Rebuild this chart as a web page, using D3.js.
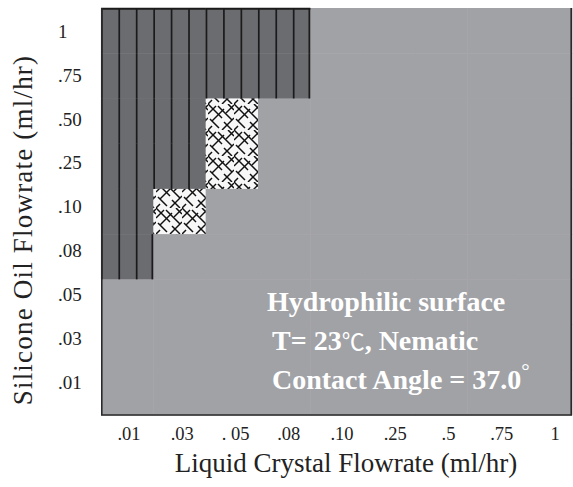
<!DOCTYPE html>
<html>
<head>
<meta charset="utf-8">
<script src="https://cdn.jsdelivr.net/npm/d3@7"></script>
<style>
  html, body { margin: 0; padding: 0; background: #fff; }
  svg { display: block; }
</style>
</head>
<body>
<svg id="chart" width="573" height="487"></svg>
<script>
// ---- data ----
const xLabels = [".01", ".03", ". 05", ".08", ".10", ".25", ".5", ".75", "1"];
const yLabels = ["1", ".75", ".50", ".25", ".10", ".08", ".05", ".03", ".01"];
// regime per cell, one row per silicone-oil flowrate (top to bottom), one entry per LC flowrate
// J = dark striped, H = cross-hatched, G = light grey
const row_1   = ["J","J","J","J","G","G","G","G","G"];
const row_075 = ["J","J","J","J","G","G","G","G","G"];
const row_050 = ["J","J","H","G","G","G","G","G","G"];
const row_025 = ["J","J","H","G","G","G","G","G","G"];
const row_010 = ["J","H","G","G","G","G","G","G","G"];
const row_008 = ["J","G","G","G","G","G","G","G","G"];
const row_005 = ["G","G","G","G","G","G","G","G","G"];
const row_003 = ["G","G","G","G","G","G","G","G","G"];
const row_001 = ["G","G","G","G","G","G","G","G","G"];
const regimeRows = [row_1, row_075, row_050, row_025, row_010, row_008, row_005, row_003, row_001];
const annotation = ["Hydrophilic surface", "T= 23", "℃", ", Nematic", "Contact Angle = 37.0", "°"];
const xTitle = "Liquid Crystal Flowrate (ml/hr)";
const yTitle = "Silicone Oil Flowrate (ml/hr)";

// ---- layout ----
const plot = {x0: 101, x1: 572, y0: 8, y1: 415};
const colors = {J: "#6b6c70", H: "#f7f7f7", G: "#a1a2a6"};

const svg = d3.select("#chart");
const defs = svg.append("defs");
const T = 26;
const pat = defs.append("pattern").attr("id", "hatch")
  .attr("patternUnits", "userSpaceOnUse").attr("width", T).attr("height", T);
pat.append("rect").attr("width", T).attr("height", T).attr("fill", colors.H);
const hatchPaths = [
  "M0,0 L14,14", "M10,2 L24,16", "M2,15 L11,24", "M16,18 L24,26", "M20,0 L26,6",
  "M4,17 L16,5", "M14,26 L26,14", "M0,10 L8,2", "M18,9 L26,1", "M0,26 L4,22"
];
pat.selectAll("path").data(hatchPaths).join("path")
  .attr("d", d => d).attr("stroke", "#111").attr("stroke-width", 1.5)
  .attr("fill", "none");

const x = d3.scaleBand().domain(xLabels).range([plot.x0, plot.x1]);
const y = d3.scaleBand().domain(yLabels).range([plot.y0, plot.y1]);
const xTick = d3.scalePoint().domain(xLabels).range([129, 555]);
const yTick = d3.scalePoint().domain(yLabels).range([31, 382]);

const cells = [];
regimeRows.forEach((row, i) => row.forEach((r, j) => cells.push({xl: xLabels[j], yl: yLabels[i], r, i, j})));

// background cells
svg.append("g").selectAll("rect").data(cells).join("rect")
  .attr("x", d => x(d.xl)).attr("y", d => y(d.yl))
  .attr("width", x.bandwidth() + 0.5).attr("height", y.bandwidth() + 0.5)
  .attr("fill", d => d.r === "H" ? "url(#hatch)" : colors[d.r]);

// stripes in dark cells
const stripes = [];
cells.filter(d => d.r === "J").forEach(d => {
  const w = x.bandwidth();
  [0, 1, 2].forEach(k => stripes.push({x: x(d.xl) + k * w / 3 + 0.8, y0: y(d.yl), y1: y(d.yl) + y.bandwidth()}));
  const next = regimeRows[d.i][d.j + 1];
  if (next === "G") stripes.push({x: x(d.xl) + w - 1, y0: y(d.yl), y1: y(d.yl) + y.bandwidth()});
});
svg.append("g").selectAll("line").data(stripes).join("line")
  .attr("x1", d => d.x).attr("x2", d => d.x).attr("y1", d => d.y0).attr("y2", d => d.y1)
  .attr("stroke", "#1b1b1b").attr("stroke-width", 1.7);

// top border over dark cells
const topDark = cells.filter(d => d.i === 0 && d.r === "J");
svg.append("g").selectAll("line").data(topDark).join("line")
  .attr("x1", d => x(d.xl)).attr("x2", d => x(d.xl) + x.bandwidth())
  .attr("y1", plot.y0 + 0.8).attr("y2", plot.y0 + 0.8)
  .attr("stroke", "#1b1b1b").attr("stroke-width", 2);

// frame: left, bottom, right
svg.append("path")
  .attr("d", `M${plot.x0 + 0.8},${plot.y0} V${plot.y1} H${plot.x1 - 0.8} V${plot.y0}`)
  .attr("fill", "none").attr("stroke", "#2a2a2a").attr("stroke-width", 1.6);

const serif = "'Liberation Serif', 'Times New Roman', serif";

// tick labels
svg.append("g").selectAll("text").data(yLabels).join("text")
  .attr("x", 58).attr("y", d => yTick(d)).attr("dy", "0.36em")
  .attr("font-family", serif).attr("font-size", 19).attr("fill", "#222")
  .text(d => d);
svg.append("g").selectAll("text").data(xLabels).join("text")
  .attr("x", d => xTick(d)).attr("y", 440).attr("text-anchor", "middle")
  .attr("font-family", serif).attr("font-size", 18.5).attr("fill", "#222")
  .text(d => d);

// axis titles
svg.append("text").attr("x", 346).attr("y", 472).attr("text-anchor", "middle")
  .attr("font-family", serif).attr("font-size", 27).attr("fill", "#222").text(xTitle);
svg.append("text").attr("transform", "translate(32,230) rotate(-90)").attr("text-anchor", "middle")
  .attr("font-family", serif).attr("font-size", 27).attr("letter-spacing", 1.2)
  .attr("fill", "#222").text(yTitle);

// annotation
const ann = svg.append("g").attr("font-family", serif).attr("font-weight", "bold")
  .attr("font-size", 28).attr("fill", "#fff");
ann.append("text").attr("x", 267).attr("y", 311).text(annotation[0]);
const l2 = ann.append("text").attr("x", 272).attr("y", 350);
l2.append("tspan").text(annotation[1]);
l2.append("tspan").attr("font-family", "'Noto Sans CJK SC', sans-serif").attr("font-weight", "normal")
  .attr("font-size", 23).text(annotation[2]);
l2.append("tspan").text(annotation[3]);
const l3 = ann.append("text").attr("x", 272).attr("y", 389);
l3.append("tspan").text(annotation[4]);
l3.append("tspan").attr("font-weight", "normal").attr("font-size", 21).attr("dy", -11).text(annotation[5]);
</script>
</body>
</html>
